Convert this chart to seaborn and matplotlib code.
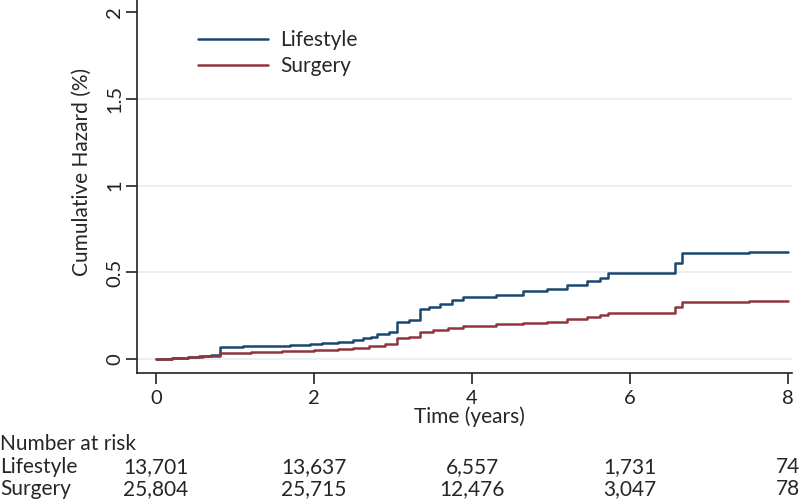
import numpy as np
import pandas as pd
import matplotlib
matplotlib.use('Agg')
import matplotlib.pyplot as plt
import seaborn as sns

# Cumulative hazard (%), step points
life_t = [0, 0.2, 0.4, 0.55, 0.7, 0.81, 1.1, 1.4, 1.7, 1.95, 2.1, 2.3, 2.5, 2.62, 2.72,
          2.8, 2.95, 3.05, 3.2, 3.34, 3.45, 3.6, 3.75, 3.89, 4.3, 4.65, 4.95, 5.2, 5.45,
          5.62, 5.72, 6.57, 6.66, 7.5, 8.0]
life_h = [0, 0.005, 0.012, 0.02, 0.025, 0.07, 0.075, 0.078, 0.082, 0.086, 0.092, 0.1, 0.11,
          0.12, 0.13, 0.145, 0.155, 0.215, 0.225, 0.29, 0.3, 0.32, 0.34, 0.357, 0.37, 0.395,
          0.405, 0.425, 0.45, 0.465, 0.497, 0.555, 0.61, 0.617, 0.617]
surg_t = [0, 0.2, 0.4, 0.6, 0.81, 1.2, 1.6, 2.0, 2.3, 2.5, 2.7, 2.9, 3.05, 3.2, 3.34, 3.5,
          3.7, 3.89, 4.3, 4.65, 4.95, 5.2, 5.45, 5.62, 5.72, 6.57, 6.66, 7.5, 8.0]
surg_h = [0, 0.004, 0.01, 0.017, 0.038, 0.042, 0.045, 0.05, 0.058, 0.065, 0.075, 0.085, 0.12,
          0.125, 0.155, 0.165, 0.178, 0.19, 0.2, 0.21, 0.215, 0.23, 0.24, 0.255, 0.268, 0.3,
          0.33, 0.333, 0.333]

groups = ['Lifestyle', 'Surgery']
risk_times = [0, 2, 4, 6, 8]
risk_life = ['13,701', '13,637', '6,557', '1,731', '74']
risk_surg = ['25,804', '25,715', '12,476', '3,047', '78']

df = pd.DataFrame({
    'time': life_t + surg_t,
    'hazard': life_h + surg_h,
    'group': ['Lifestyle'] * len(life_t) + ['Surgery'] * len(surg_t),
})

sns.set_style('ticks')
plt.rcParams['font.family'] = ['Lato', 'DejaVu Sans']
colors = {'Lifestyle': '#1a476f', 'Surgery': '#90353b'}
fs = 15

fig = plt.figure(figsize=(8, 4.99), dpi=100)
ax = fig.add_axes([137 / 800, 1 - 373 / 499, 655 / 800, 373 / 499])

for y in [0, 0.5, 1, 1.5]:
    ax.axhline(y, color='#e6eef1', lw=1.2, zorder=0)

sns.lineplot(data=df, x='time', y='hazard', hue='group', palette=colors,
             drawstyle='steps-post', estimator=None, sort=False, lw=1.8,
             legend=False, ax=ax)

ax.set_xlim(-0.24, 8.05)
ax.set_ylim(-0.08, 2.07)
ax.set_xticks([0, 2, 4, 6, 8])
ax.set_yticks([0, 0.5, 1, 1.5, 2])
ax.set_yticklabels(['0', '0.5', '1', '1.5', '2'], rotation=90, va='center')
ax.tick_params(labelsize=14.5, length=8, width=1.2, colors='#222222')
ax.tick_params(axis='y', pad=2)
ax.tick_params(axis='x', pad=4)
ax.set_xlabel('Time (years)', fontsize=fs)
ax.set_ylabel('Cumulative Hazard (%)', fontsize=fs)
ax.xaxis.set_label_coords(0.508, -0.118)
ax.xaxis.label.set_va('center')
ax.yaxis.set_label_coords(-0.084, 0.54)
ax.yaxis.label.set_va('center')
sns.despine(ax=ax)
for s in ['left', 'bottom']:
    ax.spines[s].set_linewidth(1.2)
    ax.spines[s].set_color('#222222')

handles = [plt.Line2D([], [], color=colors[g], lw=1.8) for g in groups]
ax.legend(handles, groups, loc='upper left', bbox_to_anchor=(0.080, 0.942),
          frameon=False, fontsize=fs, handlelength=3.37, handletextpad=0.58,
          labelspacing=0.29, borderaxespad=0)

# Number at risk table
trans = matplotlib.transforms.blended_transform_factory(ax.transData, fig.transFigure)
fig.text(0.0, 1 - 444 / 499, 'Number at risk', fontsize=fs, va='center', ha='left')
fig.text(0.0, 1 - 467 / 499, 'Lifestyle', fontsize=fs, va='center', ha='left')
fig.text(0.0, 1 - 489 / 499, 'Surgery', fontsize=fs, va='center', ha='left')
for t, a, b in zip(risk_times, risk_life, risk_surg):
    ha = 'right' if t == 8 else 'center'
    xpos = 8.15 if t == 8 else t
    ax.text(xpos, 1 - 467 / 499, a, transform=trans, fontsize=fs, va='center', ha=ha)
    ax.text(xpos, 1 - 489 / 499, b, transform=trans, fontsize=fs, va='center', ha=ha)

fig.savefig('out.png', dpi=100)
